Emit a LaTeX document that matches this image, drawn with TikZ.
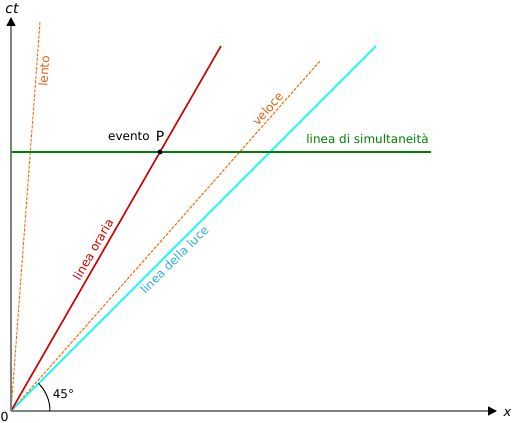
\documentclass[tikz,border=0pt]{standalone}
\usepackage{fontspec}
\setmainfont{DejaVu Sans}
\usetikzlibrary{arrows.meta,calc}
\definecolor{axgray}{HTML}{808080}
\definecolor{orline}{HTML}{FF6600}
\definecolor{ortext}{HTML}{E06010}
\definecolor{redline}{HTML}{D40000}
\definecolor{greenline}{HTML}{008000}
\definecolor{cyanline}{HTML}{00FFFF}
\definecolor{cyantext}{HTML}{2AB0E0}
\tikzset{
  axis/.style={draw=axgray,line width=1.5pt,-{Triangle[length=9pt,width=9pt,color=black,fill=black]}},
  dashedline/.style={draw=orline,line width=1pt,dash pattern=on 3pt off 1.5pt},
  lbl/.style={font=\fontsize{12}{14}\selectfont,inner sep=1pt},
}
\begin{document}
\begin{tikzpicture}[x=1pt,y=1pt]
\useasboundingbox (0,0) rectangle (512,423);
\coordinate (O) at (11,12);
\coordinate (X) at (497,12);
\coordinate (Y) at (11,406);
\coordinate (L) at (40,401);
\coordinate (P) at (160,271);
\coordinate (R) at ($(O)!1.409!(P)$);
\coordinate (V) at (320,362);
\coordinate (C) at (376,377);
\coordinate (G1) at (11,271);
\coordinate (G2) at (431,271);
% lines
\draw[dashedline] (O) -- (L) node[lbl,text=ortext,pos=0.875,sloped,below,inner sep=2.5pt] {lento};
\draw[dashedline] (O) -- (V) node[lbl,text=ortext,pos=0.849,sloped,above,inner sep=2.5pt] {veloce};
\draw[draw=cyanline,line width=1.6pt] (O) -- (C) node[lbl,text=cyantext,pos=0.431,sloped,below,inner sep=3pt] {linea della luce};
\draw[draw=redline,line width=1.6pt] (O) -- (R) node[lbl,text=redline,pos=0.43,sloped,above,inner sep=4pt] {linea oraria};
\draw[draw=greenline,line width=1.5pt] (G1) -- (G2);
% axes
\draw[axis] (O) -- (X);
\draw[axis] (O) -- (Y);
% angle
\draw[black,line width=1pt] ($(O)+(39,0)$) arc[start angle=0,end angle=45,radius=39pt];
% point
\fill (P) circle[radius=2.5pt];
% labels
\node[lbl] (ct) at (12,414) {\fontsize{14}{16}\selectfont\itshape ct};
\node[lbl] (xl) at (507.5,10) {\fontsize{13}{15}\selectfont\itshape x};
\node[lbl] (zero) at (4.5,6) {\fontsize{12.5}{15}\selectfont 0};
\node[lbl] (ang) at (63.5,28.5) {45°};
\node[lbl,anchor=base] (ev) at (129,282) {evento};
\node[lbl,anchor=base] (pl) at (160,281) {\fontsize{14}{16}\selectfont P};
\node[lbl,anchor=base,text=greenline] (sim) at (367.5,279) {linea di simultaneità};
\end{tikzpicture}
\end{document}
